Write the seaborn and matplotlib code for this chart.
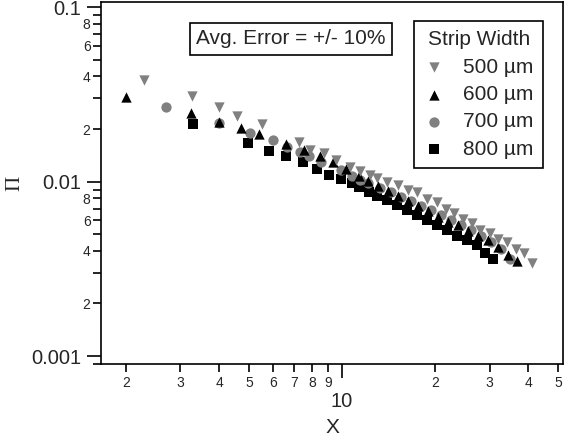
import numpy as np
import pandas as pd
import matplotlib
matplotlib.use("Agg")
import matplotlib.pyplot as plt
import matplotlib.ticker as mticker
import seaborn as sns

# strip width 500 um (grey down triangles)
x_500 = [2.29, 3.27, 4.0, 4.57, 5.51, 7.26, 7.87, 8.75, 9.57, 10.63, 11.4, 12.3,
         13.0, 14.0, 15.2, 16.3, 17.5, 18.8, 20.2, 21.6, 23.0, 24.6, 26.3, 28.0,
         30.0, 32.0, 34.2, 36.5, 38.8, 41.0]
y_500 = [0.0382, 0.0309, 0.0267, 0.0237, 0.0214, 0.0168, 0.0152, 0.0146, 0.0133,
         0.0121, 0.0115, 0.0109, 0.0105, 0.0099, 0.0096, 0.0089, 0.0087, 0.0079,
         0.0076, 0.0070, 0.0066, 0.0061, 0.0058, 0.0053, 0.0051, 0.0047, 0.0045,
         0.0041, 0.0039, 0.0034]

# 600 um (black up triangles)
x_600 = [2.0, 3.25, 4.0, 4.71, 5.39, 6.59, 7.54, 8.49, 9.36, 10.3, 11.3, 12.13,
         13.07, 14.08, 15.18, 16.35, 17.62, 18.98, 20.45, 22.03, 23.73, 25.57,
         27.54, 29.67, 31.97, 34.44, 36.81]
y_600 = [0.0305, 0.0247, 0.0219, 0.0203, 0.0187, 0.0164, 0.0152, 0.0140, 0.0129,
         0.0118, 0.0108, 0.0101, 0.0094, 0.0088, 0.0083, 0.0077, 0.0072, 0.0068,
         0.0063, 0.0059, 0.0056, 0.0052, 0.0049, 0.0046, 0.0042, 0.0038, 0.0035]

# 700 um (grey circles)
x_700 = [2.69, 4.0, 5.04, 5.98, 6.64, 7.31, 7.82, 8.55, 9.93, 10.77, 11.43, 12.13,
         13.3, 14.4, 15.5, 16.7, 18.0, 19.4, 20.9, 22.5, 24.2, 26.1, 28.1, 30.3,
         32.6, 35.0]
y_700 = [0.0267, 0.0216, 0.0190, 0.0173, 0.0158, 0.0148, 0.0140, 0.0129, 0.0116,
         0.0108, 0.0102, 0.0098, 0.0092, 0.0087, 0.0082, 0.0077, 0.0072, 0.0069,
         0.0064, 0.0060, 0.0056, 0.0053, 0.0049, 0.0045, 0.0041, 0.0036]

# 800 um (black squares)
x_800 = [3.29, 4.96, 5.80, 6.59, 7.48, 8.30, 9.08, 9.93, 10.77, 11.35, 12.22, 12.97,
         13.99, 15.07, 16.22, 17.49, 18.84, 20.29, 21.86, 23.55, 25.35, 27.35,
         29.04, 30.83]
y_800 = [0.0214, 0.0166, 0.0150, 0.0140, 0.0129, 0.0118, 0.0109, 0.0103, 0.0098,
         0.0093, 0.0087, 0.0083, 0.0078, 0.0073, 0.0069, 0.0064, 0.0060, 0.0056,
         0.0053, 0.0049, 0.0046, 0.0043, 0.0039, 0.0036]

widths = ["500 µm", "600 µm", "700 µm", "800 µm"]
grey = "#808080"

df = pd.concat([
    pd.DataFrame({"X": x_500, "Pi": y_500, "width": widths[0]}),
    pd.DataFrame({"X": x_600, "Pi": y_600, "width": widths[1]}),
    pd.DataFrame({"X": x_700, "Pi": y_700, "width": widths[2]}),
    pd.DataFrame({"X": x_800, "Pi": y_800, "width": widths[3]}),
])
colors = {widths[0]: grey, widths[1]: "black", widths[2]: grey, widths[3]: "black"}
markers = {widths[0]: "v", widths[1]: "^", widths[2]: "o", widths[3]: "s"}

sns.set_style("ticks")
plt.rcParams["font.family"] = ["Liberation Sans", "DejaVu Sans"]

fig = plt.figure(figsize=(5.64, 4.42), dpi=100)
ax = fig.add_axes([101 / 564, 1 - 364 / 442, 462 / 564, 362 / 442])

# draw back to front: squares first, grey triangles on top
for w in reversed(widths):
    sub = df[df["width"] == w]
    sns.scatterplot(data=sub, x="X", y="Pi", marker=markers[w], color=colors[w],
                    s=55, linewidth=0, label=w, ax=ax)

ax.set_xscale("log")
ax.set_yscale("log")
ax.set_xlim(1.661, 51.8)
ax.set_ylim(0.000900, 0.1069)

ax.xaxis.set_major_locator(mticker.LogLocator(base=10, numticks=10))
ax.xaxis.set_minor_locator(mticker.LogLocator(base=10, subs=np.arange(2, 10), numticks=20))
ax.yaxis.set_major_locator(mticker.LogLocator(base=10, numticks=10))
ax.yaxis.set_minor_locator(mticker.LogLocator(base=10, subs=np.arange(2, 10), numticks=20))


def major_fmt(v, pos):
    return f"{v:g}"


def mantissa(v):
    return int(round(v / 10 ** np.floor(np.log10(v) + 1e-9)))


def x_minor_fmt(v, pos):
    return str(mantissa(v))


def y_minor_fmt(v, pos):
    m = mantissa(v)
    return str(m) if m in (2, 4, 6, 8) else ""


ax.xaxis.set_major_formatter(mticker.FuncFormatter(major_fmt))
ax.yaxis.set_major_formatter(mticker.FuncFormatter(major_fmt))
ax.xaxis.set_minor_formatter(mticker.FuncFormatter(x_minor_fmt))
ax.yaxis.set_minor_formatter(mticker.FuncFormatter(y_minor_fmt))

ax.tick_params(which="major", length=10, width=1.2, labelsize=14.5, direction="out", color="black")
ax.tick_params(which="minor", length=5.5, width=1.2, labelsize=10, direction="out", color="black")
ax.tick_params(axis="x", which="major", pad=10)
ax.tick_params(axis="x", which="minor", pad=3)
ax.tick_params(axis="y", which="major", pad=4)
ax.tick_params(axis="y", which="minor", pad=2)

for sp in ax.spines.values():
    sp.set_visible(True)
    sp.set_color("black")
    sp.set_linewidth(1.2)

ax.set_xlabel("X", fontsize=15)
ax.set_ylabel("Π", fontsize=15, family=["Liberation Serif", "DejaVu Serif"])
ax.xaxis.set_label_coords(0.5, -0.150)
ax.yaxis.set_label_coords(-0.165, 0.5)

ax.text(0.411, 0.898, "Avg. Error = +/- 10%", transform=ax.transAxes, fontsize=15,
        ha="center", va="center",
        bbox=dict(boxstyle="square,pad=0.3", fc="white", ec="black", lw=1.2))

handles, labels = ax.get_legend_handles_labels()
order = [labels.index(w) for w in widths]
leg = ax.legend([handles[i] for i in order], [labels[i] for i in order],
                title="Strip Width", fontsize=15, title_fontsize=15,
                loc="upper right", bbox_to_anchor=(0.957, 0.9475), borderaxespad=0,
                frameon=True, fancybox=False, edgecolor="black", framealpha=1,
                handlelength=1.0, handletextpad=0.9, labelspacing=0.4, borderpad=0.45)
leg.get_frame().set_linewidth(1.2)

fig.savefig("out.png", dpi=100)
